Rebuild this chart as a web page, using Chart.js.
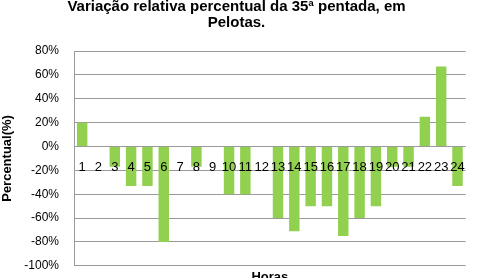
<!DOCTYPE html>
<html>
<head>
<meta charset="utf-8">
<script src="https://cdn.jsdelivr.net/npm/chart.js@4/dist/chart.umd.min.js"></script>
<style>
  html, body { margin: 0; padding: 0; background: #fff; overflow: hidden; }
  #wrap { width: 478px; height: 278px; overflow: hidden; }
</style>
</head>
<body>
<div id="wrap"><canvas id="c" width="478" height="288"></canvas></div>
<script>
const titleLines = ['Variação relativa percentual da 35ª pentada, em', 'Pelotas.'];
const hours = ['1','2','3','4','5','6','7','8','9','10','11','12','13','14','15','16','17','18','19','20','21','22','23','24'];
const variation = [20, 0, -17, -33, -33, -80, 0, -17, 0, -40, -40, 0, -60, -71, -50, -50, -75, -60, -50, -17, -17, 25, 67, -33];
const yMin = -100, yMax = 80, yStep = 20;
const yTitle = 'Percentual(%)';
const xTitle = 'Horas';

const gridColor = '#9a9a9a';
new Chart(document.getElementById('c'), {
  type: 'bar',
  data: {
    labels: hours,
    datasets: [{
      data: variation,
      backgroundColor: '#92D050',
      borderWidth: 0,
      barPercentage: 0.64,
      categoryPercentage: 1.0,
      xAxisID: 'x'
    }]
  },
  options: {
    responsive: false,
    animation: false,
    devicePixelRatio: 1,
    layout: { padding: { left: 0, right: 5, top: 0, bottom: 0 } },
    plugins: {
      legend: { display: false },
      tooltip: { enabled: false },
      title: {
        display: true,
        text: titleLines,
        color: '#000',
        font: { family: 'Liberation Sans', size: 15, weight: 'bold', lineHeight: 1.07 },
        padding: { top: -1, bottom: 20 }
      }
    },
    scales: {
      x: {
        type: 'category',
        position: { y: 0 },
        grid: { display: false, drawTicks: false },
        border: { display: false },
        ticks: {
          z: 1,
          color: '#000',
          font: { family: 'Liberation Sans', size: 13 },
          padding: 13,
          maxRotation: 0,
          autoSkip: false
        }
      },
      x2: {
        type: 'category',
        position: 'bottom',
        labels: hours,
        grid: { display: false, drawTicks: false },
        border: { display: false },
        ticks: { display: false },
        title: {
          display: true,
          text: xTitle,
          color: '#000',
          font: { family: 'Liberation Sans', size: 13, weight: 'bold' },
          padding: { top: 0, bottom: -5 }
        },
        afterFit: (a) => { a.height = 14; }
      },
      y: {
        min: yMin,
        max: yMax,
        grid: { color: gridColor, lineWidth: 1, drawTicks: false },
        border: { display: true, color: gridColor, width: 1 },
        ticks: {
          stepSize: yStep,
          color: '#000',
          padding: 15,
          font: { family: 'Liberation Sans', size: 12 },
          callback: (v) => v + '%'
        },
        title: {
          display: true,
          text: yTitle,
          color: '#000',
          font: { family: 'Liberation Sans', size: 13, weight: 'bold' },
          padding: { top: 0, bottom: 0 }
        },
        afterFit: (a) => { a.width = 74; }
      }
    }
  }
});
</script>
</body>
</html>
